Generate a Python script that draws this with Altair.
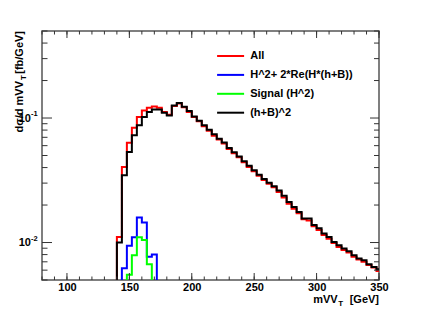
import altair as alt
import pandas as pd

# ---------------- data ----------------
BIN_WIDTH = 4
series_names = ["All", "H^2+ 2*Re(H*(h+B))", "Signal (H^2)", "(h+B)^2"]
series_colors = ["#ff0000", "#0000ff", "#00ff00", "#000000"]

all_start = 140
all_values = [0.0111, 0.0404, 0.0634, 0.0837, 0.102, 0.115, 0.121, 0.124, 0.121, 0.112,
              0.106, 0.125, 0.131, 0.122, 0.112, 0.102, 0.094, 0.086, 0.079, 0.072,
              0.0672, 0.0625, 0.0565, 0.0522, 0.0483, 0.0441, 0.0405, 0.0373, 0.0344, 0.0318,
              0.0296, 0.0278, 0.0255, 0.0230, 0.0205, 0.0187, 0.0172, 0.0154, 0.0150, 0.0135,
              0.0126, 0.0115, 0.0107, 0.0099, 0.0092, 0.0087, 0.0083, 0.0077, 0.0073, 0.0070,
              0.0066, 0.0063, 0.0059]

interf_start = 144
interf_values = [0.0062, 0.0094, 0.0110, 0.0159, 0.0145, 0.0077, 0.0080]

signal_start = 148
signal_values = [0.0055, 0.0079, 0.0110, 0.0105, 0.0067]

bkg_start = 140
bkg_values = [0.0100, 0.0347, 0.0534, 0.0726, 0.0874, 0.102, 0.112, 0.117, 0.117, 0.110,
              0.105, 0.126, 0.132, 0.123, 0.114, 0.103, 0.095, 0.0875, 0.0805, 0.0741,
              0.0682, 0.0635, 0.0575, 0.0530, 0.0490, 0.0449, 0.0413, 0.0380, 0.0350, 0.0324,
              0.0302, 0.0283, 0.0262, 0.0238, 0.0212, 0.0193, 0.0176, 0.0156, 0.0156, 0.0138,
              0.0130, 0.0118, 0.0111, 0.0101, 0.0095, 0.00895, 0.00851, 0.0079, 0.00744, 0.00722,
              0.0067, 0.00637, 0.0061]

x_major = [100, 150, 200, 250, 300, 350]
x_minor = [80, 90, 100, 110, 120, 130, 140, 150, 160, 170, 180, 190, 200, 210, 220, 230,
           240, 250, 260, 270, 280, 290, 300, 310, 320, 330, 340, 350]
y_major = [0.01, 0.1]
y_minor = [0.005, 0.006, 0.007, 0.008, 0.009, 0.02, 0.03, 0.04, 0.05, 0.06, 0.07, 0.08,
           0.09, 0.2, 0.3, 0.4, 0.5]
y_label_base = ["10", "10"]
y_label_exp = ["-2", "-1"]

x_title = ["mVV", "T", "[GeV]"]
y_title = ["dσ/d mVV", "T", "[fb/GeV]"]

# ---------------- build tables ----------------
FLOOR = 1e-4
rows = []
for name, start, vals in zip(series_names,
                             [all_start, interf_start, signal_start, bkg_start],
                             [all_values, interf_values, signal_values, bkg_values]):
    edges = [start + BIN_WIDTH * i for i in range(len(vals) + 1)]
    rows.append({"s": name, "x": edges[0], "y": FLOOR, "i": 0})
    for i, v in enumerate(vals):
        rows.append({"s": name, "x": edges[i], "y": v, "i": i + 1})
    rows.append({"s": name, "x": edges[-1], "y": FLOOR, "i": len(vals) + 1})
hist = pd.DataFrame(rows)

W, H = 337, 249
FONT = "Liberation Sans"

xscale = alt.Scale(domain=[80, 350], nice=False, zero=False)
yscale = alt.Scale(type="log", domain=[0.005, 0.5], nice=False)
color_scale = alt.Scale(domain=series_names, range=series_colors)

legend = alt.Legend(orient="none", legendX=180.6, legendY=17, title=None,
                    symbolType="M-2,0H2", symbolSize=182.25, symbolStrokeWidth=2,
                    labelFont=FONT, labelFontSize=11, labelFontWeight="bold",
                    labelColor="black", labelOffset=11.6, rowPadding=5.9, padding=0)

xaxis = alt.Axis(values=x_major, ticks=False, domain=False, grid=False, title=None,
                 labelFont=FONT, labelFontSize=11, labelFontWeight="bold",
                 labelColor="black", labelPadding=1, labelFlush=False, labelOverlap=False)


def X(field):
    return alt.X(field, scale=xscale, axis=xaxis)


layers = []
for name in series_names:
    layers.append(
        alt.Chart(hist).transform_filter(alt.datum.s == name)
        .mark_line(interpolate="step-after", strokeWidth=2, clip=True)
        .encode(x=X("x:Q"),
                y=alt.Y("y:Q", scale=yscale, axis=None),
                color=alt.Color("s:N", scale=color_scale, legend=legend),
                order=alt.Order("i:Q"))
    )

TICK = "#333333"


def xticks(vals, y0, y1):
    return alt.Chart(pd.DataFrame({"x": vals})).mark_rule(color=TICK, strokeWidth=1).encode(
        x=X("x:Q"), y=alt.value(y0), y2=alt.value(y1))


def yticks(vals, x0, x1):
    return alt.Chart(pd.DataFrame({"y": vals})).mark_rule(color=TICK, strokeWidth=1).encode(
        y=alt.Y("y:Q", scale=yscale, axis=None), x=alt.value(x0), x2=alt.value(x1))


layers += [
    xticks(x_major, H, H - 7), xticks(x_minor, H, H - 3.5),
    xticks(x_major, 0, 7), xticks(x_minor, 0, 3.5),
    yticks(y_major, 0, 10), yticks(y_minor, 0, 5.5),
    yticks(y_major, W - 9, W), yticks(y_minor, W - 5, W),
]

ylab = pd.DataFrame({"y": y_major, "b": y_label_base, "e": y_label_exp})
layers.append(alt.Chart(ylab).mark_text(font=FONT, fontSize=11, fontWeight="bold", align="right",
                                        baseline="middle", dy=0.5, color="black")
              .encode(y=alt.Y("y:Q", scale=yscale, axis=None), x=alt.value(-11), text="b:N"))
layers.append(alt.Chart(ylab).mark_text(font=FONT, fontSize=7.5, fontWeight="bold", align="left",
                                        baseline="middle", dy=-4, color="black")
              .encode(y=alt.Y("y:Q", scale=yscale, axis=None), x=alt.value(-11), text="e:N"))

one = pd.DataFrame({"a": [0]})


def label(txt, x, y, size=11, align="left", angle=0):
    return alt.Chart(one).mark_text(text=txt, font=FONT, fontSize=size, fontWeight="bold",
                                    align=align, baseline="alphabetic", angle=angle,
                                    color="black").encode(x=alt.value(x), y=alt.value(y))


layers += [
    label(x_title[0], 295.7, 271.5, align="right"),
    label(x_title[1], 296.2, 274.5, size=8),
    label(x_title[2], 337, 271.5, align="right"),
    label(y_title[2], -19, 0, align="right", angle=270),
    label(y_title[1], -16, 44, size=8, align="right", angle=270),
    label(y_title[0], -19, 50, align="right", angle=270),
]

chart = alt.layer(*layers).properties(
    width=W, height=H,
    autosize=alt.AutoSizeParams(type="none"),
    padding={"left": 34, "top": 23, "right": 35, "bottom": 26},
    background="white",
).configure_view(stroke="#555555", strokeWidth=1.5)

chart.save("out.html", embed_options={"renderer": "svg", "actions": False})
